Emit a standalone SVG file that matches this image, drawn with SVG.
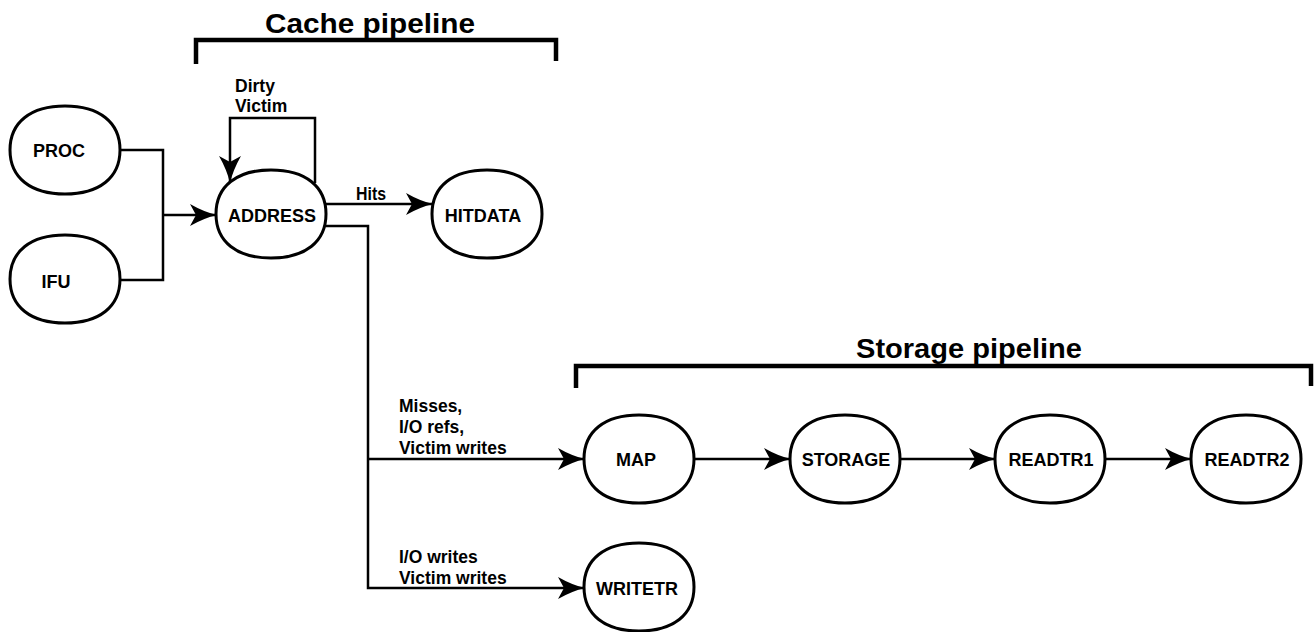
<svg xmlns="http://www.w3.org/2000/svg" xmlns:xlink="http://www.w3.org/1999/xlink" width="1315" height="632" viewBox="0 0 1315 632">
<style>
  .node { fill: #fff; stroke: #000; stroke-width: 3; }
  .lbl { font-family: "Liberation Sans", Arial, sans-serif; font-weight: bold; font-size: 18px; fill: #000; text-anchor: middle; }
  .elbl { font-family: "Liberation Sans", Arial, sans-serif; font-weight: bold; font-size: 17.5px; fill: #000; }
  .title { font-family: "Liberation Sans", Arial, sans-serif; font-weight: bold; font-size: 28px; fill: #000; }
  .edge { fill: none; stroke: #000; stroke-width: 2.5; }
  .bracket { fill: none; stroke: #000; stroke-width: 4.5; stroke-linejoin: miter; }
</style>
<defs>
  <path id="shape" d="M0,-44 C34,-44 55,-28 55,0 C55,28 34,44 0,44 C-34,44 -55,28 -55,0 C-55,-28 -34,-44 0,-44 Z"/>
  <marker id="arrow" markerUnits="userSpaceOnUse" viewBox="-28 -13 30 26" refX="0" refY="0" markerWidth="30" markerHeight="26" orient="auto">
    <path d="M1,0 Q-12,-3 -26,-11 L-20,0 L-26,11 Q-12,3 1,0 Z" fill="#000"/>
  </marker>
</defs>
<rect width="1315" height="632" fill="#fff"/>

<g id="titles">
  <text class="title" x="265" y="33" textLength="210" lengthAdjust="spacingAndGlyphs">Cache pipeline</text>
  <path class="bracket" d="M196,64 V40 H556 V61"/>
  <text class="title" x="856" y="358" textLength="226" lengthAdjust="spacingAndGlyphs">Storage pipeline</text>
  <path class="bracket" d="M576,388 V366 H1311 V386"/>
</g>

<g id="connectors">
  <path class="edge" d="M120,150 H163 V280 H120"/>
  <path class="edge" d="M163,215 H216" marker-end="url(#arrow)"/>
  <path class="edge" d="M315,183 V118 H230 V182" marker-end="url(#arrow)"/>
  <path class="edge" d="M325,204 H432" marker-end="url(#arrow)"/>
  <path class="edge" d="M325,226 H368 V588 H584" marker-end="url(#arrow)"/>
  <path class="edge" d="M368,459 H584" marker-end="url(#arrow)"/>
  <path class="edge" d="M694,459 H790" marker-end="url(#arrow)"/>
  <path class="edge" d="M900,459 H995" marker-end="url(#arrow)"/>
  <path class="edge" d="M1105,459 H1191" marker-end="url(#arrow)"/>
  <text class="elbl" x="235" y="92">Dirty</text>
  <text class="elbl" x="235" y="112">Victim</text>
  <text class="elbl" x="356" y="200" textLength="30" lengthAdjust="spacingAndGlyphs">Hits</text>
  <text class="elbl" x="399" y="412">Misses,</text>
  <text class="elbl" x="399" y="433">I/O refs,</text>
  <text class="elbl" x="399" y="454">Victim writes</text>
  <text class="elbl" x="399" y="563">I/O writes</text>
  <text class="elbl" x="399" y="584">Victim writes</text>
</g>

<g id="node-proc"><use xlink:href="#shape" href="#shape" class="node" x="65" y="150"/><text class="lbl" x="59" y="157">PROC</text></g>
<g id="node-ifu"><use xlink:href="#shape" href="#shape" class="node" x="65" y="279"/><text class="lbl" x="56" y="288">IFU</text></g>
<g id="node-address"><use xlink:href="#shape" href="#shape" class="node" x="271" y="214"/><text class="lbl" x="272" y="222">ADDRESS</text></g>
<g id="node-hitdata"><use xlink:href="#shape" href="#shape" class="node" x="487" y="214"/><text class="lbl" x="483" y="222">HITDATA</text></g>
<g id="node-map"><use xlink:href="#shape" href="#shape" class="node" x="639" y="459"/><text class="lbl" x="636" y="466">MAP</text></g>
<g id="node-storage"><use xlink:href="#shape" href="#shape" class="node" x="845" y="459"/><text class="lbl" x="846" y="466">STORAGE</text></g>
<g id="node-readtr1"><use xlink:href="#shape" href="#shape" class="node" x="1050" y="459"/><text class="lbl" x="1051" y="466">READTR1</text></g>
<g id="node-readtr2"><use xlink:href="#shape" href="#shape" class="node" x="1246" y="459"/><text class="lbl" x="1247" y="466">READTR2</text></g>
<g id="node-writetr"><use xlink:href="#shape" href="#shape" class="node" x="639" y="587"/><text class="lbl" x="637" y="595">WRITETR</text></g>
</svg>
